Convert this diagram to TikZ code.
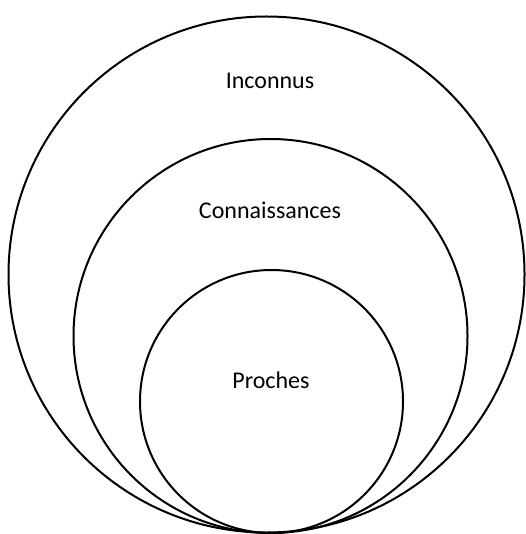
\documentclass[tikz,border=0pt]{standalone}
\usepackage{fontspec}
\setmainfont{Carlito}
\usetikzlibrary{positioning}
\tikzset{%
  ring/.style = { draw=black, line width=2pt },
  ringlabel/.style = { font=\fontsize{24}{28}\selectfont, anchor=center, inner sep=0pt }
}
\begin{document}
\begin{tikzpicture}[x=1pt,y=-1pt]

  \useasboundingbox (0,0) rectangle (525,534);

  % nested circles, all touching at the bottom
  \draw[ring] (266.5,274.5) circle (258);
  \draw[ring] (270.5,336) circle (197);
  \draw[ring] (271.5,401.5) circle (131.5);

  % labels
  \node[ringlabel] (inconnus) at (270,81) {Inconnus};
  \node[ringlabel] (connaissances) at (270,210) {Connaissances};
  \node[ringlabel] (proches) at (271,380) {Proches};

\end{tikzpicture}
\end{document}
